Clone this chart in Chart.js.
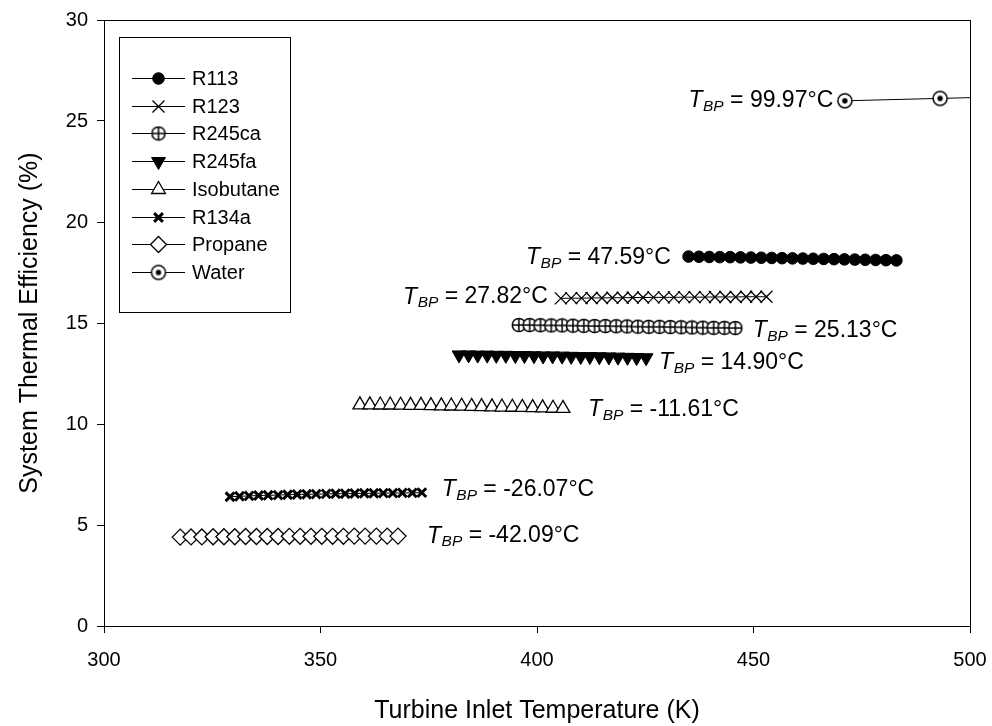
<!DOCTYPE html>
<html>
<head>
<meta charset="utf-8">
<script src="https://cdn.jsdelivr.net/npm/chart.js@4.4.1/dist/chart.umd.min.js"></script>
<style>
  html, body { margin: 0; padding: 0; background: #ffffff; }
  #wrap { width: 992px; height: 726px; }
</style>
</head>
<body>
<div id="wrap"><canvas id="chart" width="992" height="726"></canvas></div>
<script>
// ---- data -------------------------------------------------------------
const fluidNames = ['R113', 'R123', 'R245ca', 'R245fa', 'Isobutane', 'R134a', 'Propane', 'Water'];
const boilingPoints = ['47.59', '27.82', '25.13', '14.90', '-11.61', '-26.07', '-42.09', '99.97'];

const r113Temp = [435.0, 437.4, 439.8, 442.2, 444.6, 447.0, 449.4, 451.8, 454.2, 456.6, 459.0, 461.4, 463.8, 466.2, 468.6, 471.0, 473.4, 475.8, 478.2, 480.6, 483.0];
const r113Eff  = [18.29, 18.28, 18.27, 18.26, 18.26, 18.25, 18.24, 18.23, 18.22, 18.21, 18.20, 18.19, 18.18, 18.17, 18.16, 18.15, 18.14, 18.13, 18.12, 18.11, 18.10];

const r123Temp = [405.5, 407.9, 410.3, 412.6, 415.0, 417.4, 419.8, 422.1, 424.5, 426.9, 429.3, 431.6, 434.0, 436.4, 438.8, 441.1, 443.5, 445.9, 448.3, 450.6, 453.0];
const r123Eff  = [16.22, 16.23, 16.23, 16.24, 16.24, 16.25, 16.25, 16.26, 16.26, 16.27, 16.27, 16.27, 16.28, 16.28, 16.28, 16.29, 16.29, 16.29, 16.30, 16.30, 16.30];

const r245caTemp = [395.8, 398.3, 400.8, 403.3, 405.8, 408.3, 410.8, 413.3, 415.8, 418.3, 420.8, 423.3, 425.8, 428.3, 430.8, 433.3, 435.8, 438.3, 440.8, 443.3, 445.8];
const r245caEff  = [14.90, 14.90, 14.89, 14.88, 14.88, 14.87, 14.86, 14.85, 14.85, 14.84, 14.83, 14.82, 14.81, 14.81, 14.80, 14.79, 14.78, 14.77, 14.76, 14.76, 14.75];

const r245faTemp = [382.0, 384.2, 386.3, 388.5, 390.6, 392.8, 395.0, 397.1, 399.3, 401.4, 403.6, 405.8, 407.9, 410.1, 412.2, 414.4, 416.6, 418.7, 420.9, 423.0, 425.2];
const r245faEff  = [13.42, 13.42, 13.41, 13.41, 13.40, 13.40, 13.39, 13.39, 13.38, 13.37, 13.37, 13.36, 13.35, 13.34, 13.34, 13.33, 13.32, 13.31, 13.30, 13.29, 13.28];

const isobutaneTemp = [359.1, 361.4, 363.8, 366.1, 368.5, 370.8, 373.2, 375.5, 377.9, 380.2, 382.6, 384.9, 387.2, 389.6, 391.9, 394.3, 396.6, 399.0, 401.3, 403.7, 406.0];
const isobutaneEff  = [10.95, 10.95, 10.94, 10.94, 10.93, 10.92, 10.92, 10.91, 10.90, 10.89, 10.88, 10.87, 10.86, 10.85, 10.84, 10.83, 10.82, 10.81, 10.80, 10.78, 10.77];

const r134aTemp = [329.1, 331.3, 333.5, 335.7, 337.9, 340.2, 342.4, 344.6, 346.8, 349.0, 351.3, 353.5, 355.7, 357.9, 360.1, 362.3, 364.5, 366.7, 368.9, 371.2, 373.4];
const r134aEff  = [6.40, 6.42, 6.44, 6.46, 6.47, 6.48, 6.50, 6.51, 6.52, 6.53, 6.54, 6.55, 6.55, 6.56, 6.57, 6.57, 6.58, 6.58, 6.59, 6.59, 6.60];

const propaneTemp = [317.6, 320.1, 322.6, 325.2, 327.7, 330.2, 332.7, 335.2, 337.7, 340.2, 342.8, 345.3, 347.8, 350.3, 352.8, 355.3, 357.8, 360.3, 362.9, 365.4, 367.9];
const propaneEff  = [4.40, 4.41, 4.41, 4.42, 4.42, 4.42, 4.43, 4.43, 4.43, 4.43, 4.44, 4.44, 4.44, 4.44, 4.44, 4.44, 4.45, 4.45, 4.45, 4.45, 4.45];

const waterTemp = [471.1, 493.1, 515.0];
const waterEff  = [26.00, 26.12, 26.23];

const xTickValues = [300, 350, 400, 450, 500];
const yTickValues = [0, 5, 10, 15, 20, 25, 30];

// ---- styling ------------------------------------------------------------
const FONT = '"Liberation Sans", Arial, Helvetica, sans-serif';
const INK = '#000000';

function makeMarker(size, paint) {
  const c = document.createElement('canvas');
  c.width = size; c.height = size;
  const g = c.getContext('2d');
  paint(g, size / 2);
  return c;
}

// circle crossed by a plus sign
const crossedCircle = makeMarker(16, (g, m) => {
  g.fillStyle = '#fff'; g.strokeStyle = INK; g.lineWidth = 1.5;
  g.beginPath(); g.arc(m, m, 6.6, 0, Math.PI * 2); g.fill(); g.stroke();
  g.beginPath();
  g.moveTo(m - 6.6, m); g.lineTo(m + 6.6, m);
  g.moveTo(m, m - 6.6); g.lineTo(m, m + 6.6);
  g.stroke();
});

// open circle with a dot in the middle
const dottedCircle = makeMarker(18, (g, m) => {
  g.fillStyle = '#fff'; g.strokeStyle = INK; g.lineWidth = 1.5;
  g.beginPath(); g.arc(m, m, 7, 0, Math.PI * 2); g.fill(); g.stroke();
  g.fillStyle = INK;
  g.beginPath(); g.arc(m, m, 2.7, 0, Math.PI * 2); g.fill();
});

function pairs(xs, ys) { return xs.map((x, i) => ({ x, y: ys[i] })); }

const markerStyles = [
  { pointStyle: 'circle',      radius: 5.8, rotation: 0,   fill: INK,    width: 1 },
  { pointStyle: 'crossRot',    radius: 8.5, rotation: 0,   fill: INK,    width: 1.3 },
  { pointStyle: crossedCircle, radius: 7,   rotation: 0,   fill: '#fff', width: 1 },
  { pointStyle: 'triangle',    radius: 8,   rotation: 180, fill: INK,    width: 1 },
  { pointStyle: 'triangle',    radius: 8,   rotation: 0,   fill: '#fff', width: 1.3 },
  { pointStyle: 'crossRot',    radius: 6.2, rotation: 0,   fill: INK,    width: 3 },
  { pointStyle: 'rectRot',     radius: 8,   rotation: 0,   fill: '#fff', width: 1.3 },
  { pointStyle: dottedCircle,  radius: 8,   rotation: 0,   fill: '#fff', width: 1 }
];

const seriesPoints = [
  pairs(r113Temp, r113Eff),
  pairs(r123Temp, r123Eff),
  pairs(r245caTemp, r245caEff),
  pairs(r245faTemp, r245faEff),
  pairs(isobutaneTemp, isobutaneEff),
  pairs(r134aTemp, r134aEff),
  pairs(propaneTemp, propaneEff),
  pairs(waterTemp, waterEff)
];

const datasets = fluidNames.map((name, i) => {
  const m = markerStyles[i];
  return {
    label: name,
    data: seriesPoints[i],
    showLine: true,
    borderColor: INK,
    borderWidth: 1,
    backgroundColor: m.fill,
    pointStyle: m.pointStyle,
    pointRadius: m.radius,
    pointHoverRadius: m.radius,
    pointRotation: m.rotation,
    pointBorderColor: INK,
    pointBackgroundColor: m.fill,
    pointBorderWidth: m.width,
    tension: 0,
    order: i
  };
});

// boiling-point annotations, anchored in data units next to each series
const bpNotes = [
  { fluid: 0, x: 430.8, y: 18.25, align: 'right' },
  { fluid: 1, x: 402.4, y: 16.28, align: 'right' },
  { fluid: 2, x: 449.8, y: 14.62, align: 'left' },
  { fluid: 3, x: 428.2, y: 13.02, align: 'left' },
  { fluid: 4, x: 411.8, y: 10.72, align: 'left' },
  { fluid: 5, x: 378.0, y: 6.75,  align: 'left' },
  { fluid: 6, x: 374.6, y: 4.45,  align: 'left' },
  { fluid: 7, x: 468.3, y: 26.0,  align: 'right' }
];

const frameAndNotes = {
  id: 'frameAndNotes',
  afterDatasetsDraw(chart) {
    const { ctx, chartArea: a, scales: { x, y } } = chart;
    ctx.save();
    // plot frame
    ctx.strokeStyle = INK; ctx.lineWidth = 1;
    ctx.strokeRect(Math.round(a.left) + 0.5, Math.round(a.top) + 0.5,
                   Math.round(a.right - a.left), Math.round(a.bottom - a.top));

    // T_BP annotations
    const big = 23, small = 15.5;
    const fMainI = 'italic ' + big + 'px ' + FONT;
    const fSubI = 'italic ' + small + 'px ' + FONT;
    const fMain = big + 'px ' + FONT;
    ctx.fillStyle = INK;
    ctx.textBaseline = 'middle';
    bpNotes.forEach(n => {
      const tail = ' = ' + boilingPoints[n.fluid] + '\u00B0C';
      ctx.font = fMainI; const wT = ctx.measureText('T').width;
      ctx.font = fSubI;  const wS = ctx.measureText('BP').width;
      ctx.font = fMain;  const wR = ctx.measureText(tail).width;
      const total = wT + wS + wR;
      let px = x.getPixelForValue(n.x);
      const py = y.getPixelForValue(n.y);
      if (n.align === 'right') px -= total;
      ctx.textAlign = 'left';
      ctx.font = fMainI; ctx.fillText('T', px, py);
      ctx.font = fSubI;  ctx.fillText('BP', px + wT + 0.5, py + 6);
      ctx.font = fMain;  ctx.fillText(tail, px + wT + wS + 0.5, py);
    });
    ctx.restore();
  },
  afterDraw(chart) {
    // boxed legend: short line with the series marker, then the name
    const { ctx } = chart;
    const row0 = 78, rowGap = 27.7;
    const lineL = 132, lineR = 185, markX = 158.5, textX = 192;
    ctx.save();
    ctx.font = '20px ' + FONT;
    const widest = Math.max(...fluidNames.map(n => ctx.measureText(n).width));
    const box = { left: 119.5, top: 37.5, width: Math.round(textX + widest + 11 - 119.5), height: 275 };
    ctx.fillStyle = '#fff';
    ctx.fillRect(box.left, box.top, box.width, box.height);
    ctx.strokeStyle = INK; ctx.lineWidth = 1;
    ctx.strokeRect(box.left, box.top, box.width, box.height);
    ctx.textBaseline = 'middle';
    ctx.textAlign = 'left';
    fluidNames.forEach((name, i) => {
      const yy = Math.round(row0 + i * rowGap) + 0.5;
      const m = markerStyles[i];
      ctx.strokeStyle = INK; ctx.lineWidth = 1;
      ctx.beginPath(); ctx.moveTo(lineL, yy); ctx.lineTo(lineR, yy); ctx.stroke();
      ctx.fillStyle = m.fill; ctx.strokeStyle = INK; ctx.lineWidth = m.width;
      Chart.helpers.drawPoint(ctx, {
        pointStyle: m.pointStyle, rotation: m.rotation, radius: m.radius, borderWidth: m.width
      }, markX, yy);
      ctx.fillStyle = INK;
      ctx.fillText(name, textX, yy + 1);
    });
    ctx.restore();
  }
};

new Chart(document.getElementById('chart'), {
  type: 'scatter',
  data: { datasets },
  plugins: [frameAndNotes],
  options: {
    responsive: false,
    animation: false,
    devicePixelRatio: 1,
    layout: { padding: { top: 20, right: 22, left: 0, bottom: 0 } },
    plugins: { legend: { display: false }, tooltip: { enabled: false } },
    scales: {
      x: {
        type: 'linear',
        min: 300, max: 500,
        afterBuildTicks(s) { s.ticks = xTickValues.map(v => ({ value: v })); },
        afterFit(s) { s.height = 100; s.paddingLeft = 0; s.paddingRight = 0; },
        grid: { drawOnChartArea: false, drawTicks: true, tickLength: 7, color: INK, lineWidth: 1 },
        border: { display: true, color: INK, width: 1 },
        ticks: { color: INK, font: { family: FONT, size: 20 }, padding: 15, maxRotation: 0 },
        title: { display: true, text: 'Turbine Inlet Temperature (K)', color: INK,
                 font: { family: FONT, size: 25 }, padding: { top: 0, bottom: 0 } }
      },
      y: {
        type: 'linear',
        min: 0, max: 30,
        afterBuildTicks(s) { s.ticks = yTickValues.map(v => ({ value: v })); },
        afterFit(s) { s.width = 104; s.paddingTop = 0; s.paddingBottom = 0; },
        grid: { drawOnChartArea: false, drawTicks: true, tickLength: 7, color: INK, lineWidth: 1 },
        border: { display: true, color: INK, width: 1 },
        ticks: { color: INK, font: { family: FONT, size: 20 }, padding: 9 },
        title: { display: true, text: 'System Thermal Efficiency (%)', color: INK,
                 font: { family: FONT, size: 25 }, padding: { top: 15, bottom: 0 } }
      }
    }
  }
});
</script>
</body>
</html>
